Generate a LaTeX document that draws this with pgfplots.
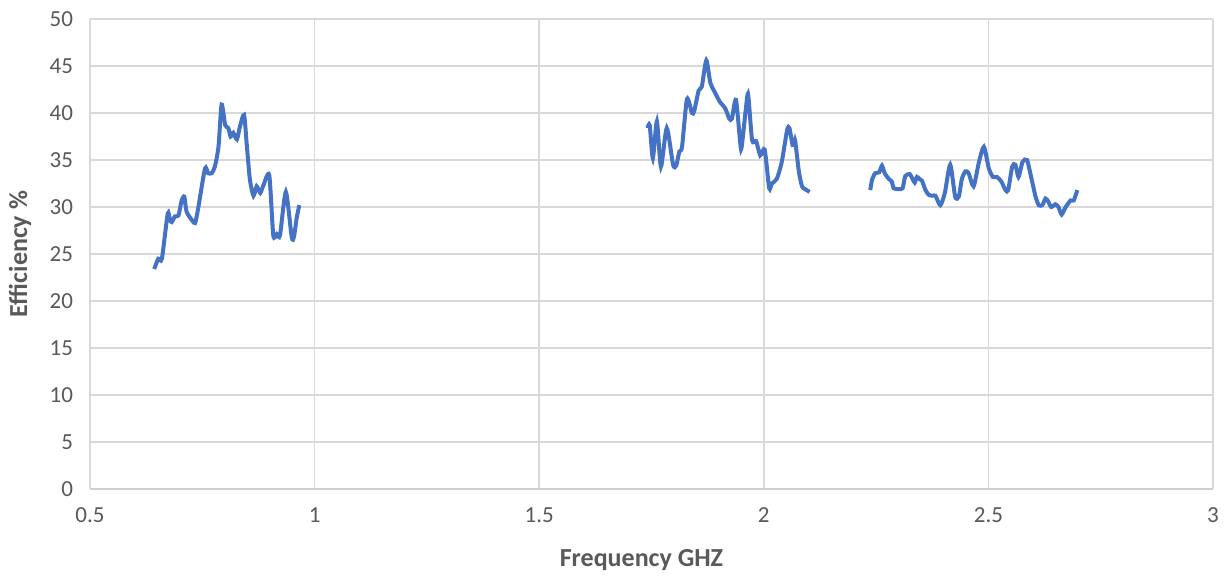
\documentclass[border=0pt]{standalone}
\usepackage{fontspec}
\setmainfont{Carlito}
\usepackage{pgfplots}
\pgfplotsset{compat=1.18}
\definecolor{lineblue}{HTML}{4472C4}
\definecolor{ticktext}{HTML}{595959}
\definecolor{gridgray}{HTML}{D9D9D9}
\begin{document}
\begin{tikzpicture}
\path[use as bounding box] (-45pt,-45pt) rectangle (567pt,244.5pt);
\begin{axis}[
  at={(0,0)}, anchor=south west,
  scale only axis,
  width=561.5pt, height=235pt,
  xmin=0.5, xmax=3, ymin=0, ymax=50,
  xtick={0.5,1,1.5,2,2.5,3},
  xticklabels={0.5,1,1.5,2,2.5,3},
  ytick={0,5,...,50},
  grid=major,
  major grid style={draw=gridgray, line width=0.75pt},
  axis line style={draw=none},
  tick style={draw=none},
  /pgf/number format/assume math mode=true,
  tick label style={font=\fontsize{11.5}{13}\selectfont, text=ticktext},
  xticklabel style={yshift=-6pt},
  yticklabel style={xshift=-5pt},
  xlabel={\textbf{Frequency GHZ}},
  ylabel={\textbf{Efficiency \%}},
  label style={font=\fontsize{13}{15}\selectfont, text=ticktext},
  xlabel style={at={(axis description cs:0.5,0)}, anchor=center, yshift=-35.5pt, xshift=-5pt},
  ylabel style={at={(axis description cs:0,0.5)}, anchor=center, yshift=35pt},
  clip=false,
]
\draw[color=gridgray!80!black!60, line width=0.75pt] (axis cs:0.5,0) -- (axis cs:3,0);
\addplot[lineblue, line width=2pt, smooth, tension=0.4] coordinates {
(0.643,23.4) (0.652,24.5) (0.660,24.5) (0.673,29.3) (0.678,28.6) (0.682,28.4)
(0.689,29.0) (0.697,29.1) (0.704,30.7) (0.710,31.1) (0.715,29.5) (0.727,28.6)
(0.734,28.3) (0.741,29.9) (0.756,34.1) (0.763,33.6) (0.771,33.6) (0.778,34.3)
(0.786,36.4) (0.793,40.9) (0.801,38.7) (0.808,38.4) (0.813,37.5) (0.819,37.9)
(0.827,37.2) (0.834,38.6) (0.843,39.8) (0.849,36.6) (0.856,32.9) (0.864,31.2)
(0.871,32.2) (0.879,31.5) (0.886,32.3) (0.899,33.4) (0.908,27.0) (0.916,27.1)
(0.923,27.0) (0.936,31.6) (0.949,26.8) (0.954,26.8) (0.960,28.8) (0.966,30.2)
};
\addplot[lineblue, line width=2pt, smooth, tension=0.4] coordinates {
(1.741,38.4) (1.746,38.7) (1.753,35.2) (1.762,39.1) (1.771,34.3) (1.784,38.4)
(1.798,34.5) (1.805,34.4) (1.812,35.9) (1.818,36.4) (1.829,41.5) (1.840,40.0)
(1.845,40.2) (1.855,42.4) (1.862,42.8) (1.872,45.6) (1.881,43.2) (1.890,42.3)
(1.902,41.2) (1.914,40.5) (1.923,39.4) (1.929,39.4) (1.938,41.4) (1.948,36.6)
(1.951,36.5) (1.963,41.7) (1.966,41.6) (1.974,37.1) (1.983,37.0) (1.992,35.5)
(2.002,36.1) (2.012,32.0) (2.018,32.5) (2.029,33.0) (2.040,34.8) (2.052,38.2)
(2.057,38.4) (2.064,36.6) (2.068,36.8) (2.070,37.0) (2.078,33.8) (2.085,32.2)
(2.092,31.9) (2.102,31.6)
};
\addplot[lineblue, line width=2pt, smooth, tension=0.4] coordinates {
(2.237,31.8) (2.241,32.9) (2.248,33.6) (2.257,33.7) (2.263,34.4) (2.269,33.6)
(2.278,33.0) (2.285,32.7) (2.289,32.0) (2.300,31.9) (2.309,32.0) (2.315,33.3)
(2.325,33.5) (2.331,33.0) (2.336,32.6) (2.341,33.2) (2.346,33.0) (2.352,32.8)
(2.360,31.8) (2.367,31.3) (2.375,31.2) (2.382,31.2) (2.393,30.2) (2.403,31.5)
(2.415,34.5) (2.426,31.1) (2.434,31.1) (2.441,33.0) (2.449,33.8) (2.456,33.6)
(2.467,32.2) (2.479,34.8) (2.490,36.4) (2.501,34.1) (2.510,33.2) (2.519,33.2)
(2.529,32.7) (2.538,31.8) (2.544,31.8) (2.553,34.3) (2.560,34.5) (2.567,33.2)
(2.576,34.8) (2.586,35.0) (2.596,33.0) (2.605,31.1) (2.612,30.2) (2.620,30.2)
(2.627,30.9) (2.633,30.6) (2.640,30.0) (2.649,30.3) (2.656,30.0) (2.663,29.2)
(2.672,30.0) (2.683,30.7) (2.690,30.7) (2.698,31.8)
};
\end{axis}
\end{tikzpicture}
\end{document}
